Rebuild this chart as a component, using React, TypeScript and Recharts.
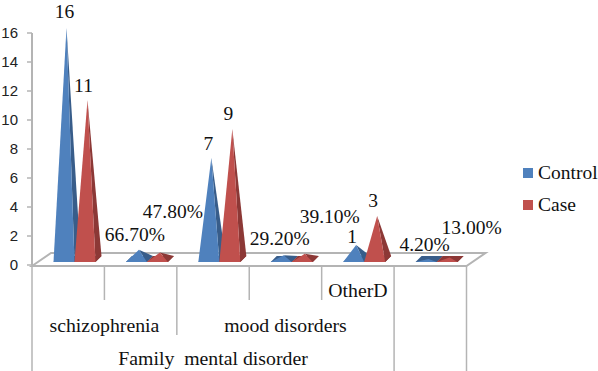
import { BarChart, Bar, XAxis, YAxis, LabelList, usePlotArea } from 'recharts';

const categories = ['s-n', 's-pct', 'm-n', 'm-pct', 'o-n', 'o-pct'];
const controlValues = [16, 0.667, 7, 0.292, 1, 0.042];
const caseValues = [11, 0.478, 9, 0.391, 3, 0.13];
const controlLabels = ['16', '66.70%', '7', '29.20%', '1', '4.20%'];
const caseLabels = ['11', '47.80%', '9', '39.10%', '3', '13.00%'];
const yTicks = [0, 2, 4, 6, 8, 10, 12, 14, 16];

const controlLabelShift = [[-2, -16], [-4, -15], [-3, -15], [-4, -17], [-4, -9], [-4, -14]];
const caseLabelShift = [[-4, -15], [13, -41], [-4, -16], [25, -37], [-4, -16], [22, -30]];

const data = categories.map((name, i) => ({ name, control: controlValues[i], case: caseValues[i] }));

const SERIF = '"Liberation Serif", serif';
const AXIS_GRAY = '#b4b4b4';
const DEPTH_X = 6;
const DEPTH_Y = 6;
const SHIFT_X = 6.5;

const Pyramid = ({ x, y, width, height, fill, side }: any) => {
  const left = x + SHIFT_X;
  const right = left + width;
  const baseY = y + height - 3;
  const apexX = left + width / 2 + 2.5;
  const apexY = y - 5.5;
  const pts = (p: number[][]) => p.map(q => q.join(',')).join(' ');
  return (
    <g>
      <polygon
        points={pts([[left, baseY], [right, baseY], [right + DEPTH_X, baseY - DEPTH_Y], [left + DEPTH_X, baseY - DEPTH_Y]])}
        fill={side}
      />
      <polygon points={pts([[right, baseY], [right + DEPTH_X, baseY - DEPTH_Y], [apexX, apexY]])} fill={side} />
      <polygon points={pts([[left, baseY], [right, baseY], [apexX, apexY]])} fill={fill} />
    </g>
  );
};

const barLabel = (labels: string[], shifts: number[][]) => (props: any) => {
  const { x, y, width, index } = props;
  const apexX = x + SHIFT_X + width / 2 + 2.5;
  const apexY = y - 5.5;
  return (
    <text
      x={apexX + shifts[index][0]}
      y={apexY + shifts[index][1]}
      textAnchor="middle"
      dominantBaseline="central"
      fontFamily={SERIF}
      fontSize={19.5}
      fill="#111"
    >
      {labels[index]}
    </text>
  );
};

const Floor = () => {
  const plot = usePlotArea();
  if (!plot) return null;
  const { x, y, width, height } = plot;
  const bottom = y + height;
  const points = [
    [x, bottom + 1],
    [x + 19, bottom - 12],
    [x + width + 19, bottom - 12],
    [x + width, bottom + 1],
  ].map(p => p.join(',')).join(' ');
  return <polygon points={points} fill="#fff" stroke={AXIS_GRAY} strokeWidth={2} />;
};

// multi-level category axis: separators of different length, labels per level
const separatorEnds = [371, 300, 335, 300, 300, 371];
const LevelTick = ({ x, y, index, payload, bandSize }: any) => {
  const left = x - bandSize / 2;
  const textProps = { textAnchor: 'middle' as const, dominantBaseline: 'central' as const, fontFamily: SERIF, fontSize: 19.8, fill: '#111' };
  return (
    <g data-name={payload.value}>
      <line x1={left} x2={left} y1={y} y2={separatorEnds[index]} stroke={AXIS_GRAY} strokeWidth={1.5} />
      {index === 5 && <line x1={left + bandSize} x2={left + bandSize} y1={y} y2={371} stroke={AXIS_GRAY} strokeWidth={1.5} />}
      {index === 0 && <text x={left + bandSize} y={325} {...textProps}>schizophrenia</text>}
      {index === 0 && <text x={left + bandSize * 2.5} y={358} {...textProps}>{'Family\u00a0 mental disorder'}</text>}
      {index === 2 && <text x={left + bandSize * 1.5} y={325} {...textProps}>mood disorders</text>}
      {index === 4 && <text x={x} y={290} {...textProps}>OtherD</text>}
    </g>
  );
};

const LegendBox = () => (
  <div style={{ position: 'absolute', left: 523, top: 157, fontFamily: SERIF, fontSize: 19.5, color: '#111', lineHeight: '32px' }}>
    {[['Control', '#4f81bd'], ['Case', '#c0504d']].map(([name, color]) => (
      <div key={name} style={{ display: 'flex', alignItems: 'center' }}>
        <span style={{ width: 10, height: 10, background: color, marginRight: 5 }} />
        {name}
      </div>
    ))}
  </div>
);

export default function App() {
  const bandSize = (598 - 32 - 131.5) / categories.length;
  return (
    <div style={{ position: 'absolute', left: 0, top: 0, width: 598, height: 371, background: '#fff', overflow: 'hidden' }}>
      <BarChart
        width={598}
        height={371}
        data={data}
        margin={{ top: 33, right: 131.5, bottom: 0, left: 0 }}
        barSize={21}
        barGap={0}
      >
        <Floor />
        <XAxis
          dataKey="name"
          height={106}
          axisLine={false}
          tickLine={false}
          interval={0}
          tick={(p: any) => <LevelTick {...p} y={266} bandSize={bandSize} />}
        />
        <YAxis
          width={32}
          domain={[0, 16]}
          ticks={yTicks}
          interval={0}
          axisLine={{ stroke: AXIS_GRAY, strokeWidth: 2 }}
          tickLine={{ stroke: AXIS_GRAY, strokeWidth: 1.5 }}
          tickSize={5}
          tickMargin={9}
          tick={{ fontFamily: '"Liberation Sans", sans-serif', fontSize: 15, fill: '#222' }}
        />
        <Bar dataKey="control" fill="#4f81bd" isAnimationActive={false} shape={(p: any) => <Pyramid {...p} side="#385d8a" />}>
          <LabelList content={barLabel(controlLabels, controlLabelShift)} />
        </Bar>
        <Bar dataKey="case" fill="#c0504d" isAnimationActive={false} shape={(p: any) => <Pyramid {...p} side="#8c3836" />}>
          <LabelList content={barLabel(caseLabels, caseLabelShift)} />
        </Bar>
      </BarChart>
      <LegendBox />
    </div>
  );
}
